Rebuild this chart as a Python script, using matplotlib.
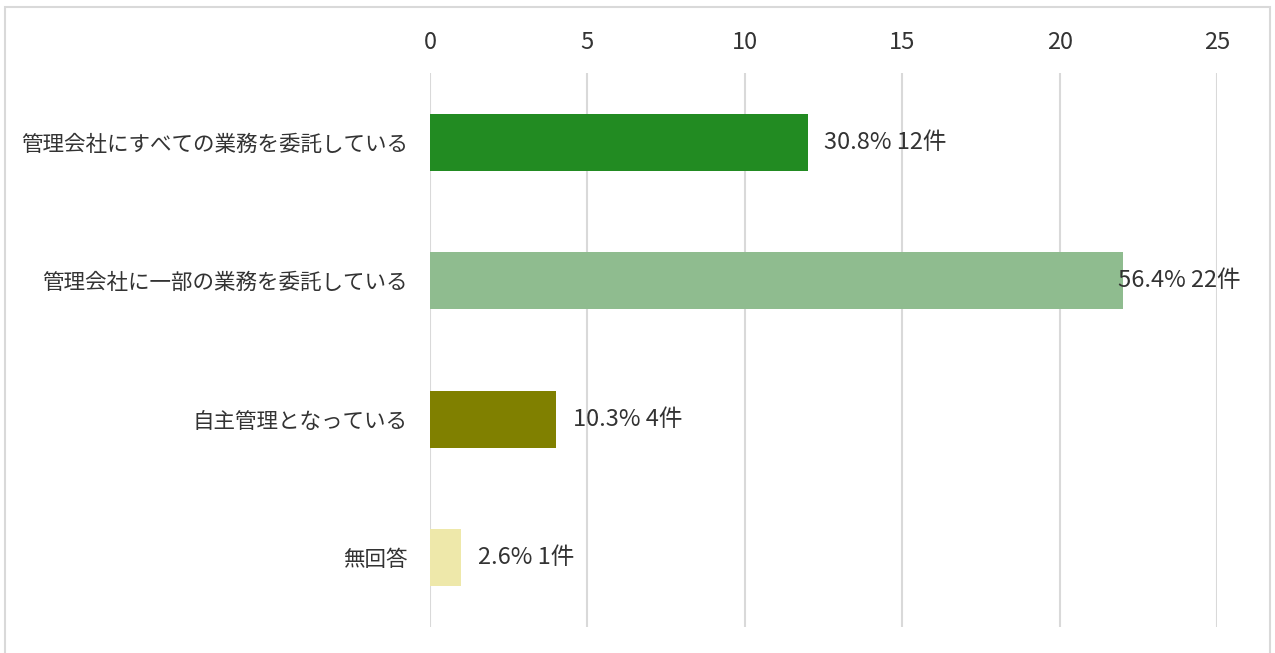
import matplotlib.pyplot as plt
from matplotlib.patches import Rectangle

plt.rcParams['font.family'] = ['Noto Sans CJK JP', 'DejaVu Sans']

# data
categories = ['管理会社にすべての業務を委託している', '管理会社に一部の業務を委託している',
              '自主管理となっている', '無回答']
counts = [12, 22, 4, 1]
percents = [30.8, 56.4, 10.3, 2.6]
colors = ['#228B22', '#8FBC8F', '#808000', '#EEE8AA']
xticks = [0, 5, 10, 15, 20, 25]

fig = plt.figure(figsize=(12.75, 6.53), dpi=100)
ax = fig.add_axes([430/1275, 1-627/653, (1217-430)/1275, (627-73)/653])

y = range(len(categories))
ax.barh(y, counts, height=0.41, color=colors, zorder=3)

ax.set_xlim(0, 25)
ax.set_ylim(len(categories)-0.5, -0.5)
ax.set_xticks(xticks)
ax.set_yticks(list(y))
ax.set_yticklabels(categories)
ax.xaxis.tick_top()
ax.tick_params(axis='x', length=0, pad=14, labelsize=17, colors='#333333')
ax.tick_params(axis='y', length=0, pad=16, labelsize=15.5, colors='#333333')
for s in ax.spines.values():
    s.set_visible(False)
ax.grid(axis='x', color='#d9d9d9', linewidth=1.5, zorder=0)

for i, (c, p) in enumerate(zip(counts, percents)):
    off = 12 if c < 20 else -3
    ax.annotate(f'{p}% {c}件', xy=(c, i), xytext=(off, 0), textcoords='offset points',
                ha='left', va='center', fontsize=17, color='#333333', zorder=4)

fig.patches.append(Rectangle((5/1275, -0.02), 1265/1275, 1.02-7/653, transform=fig.transFigure,
                             fill=False, edgecolor='#d9d9d9', linewidth=1.5))

fig.savefig('out.png', dpi=100)
